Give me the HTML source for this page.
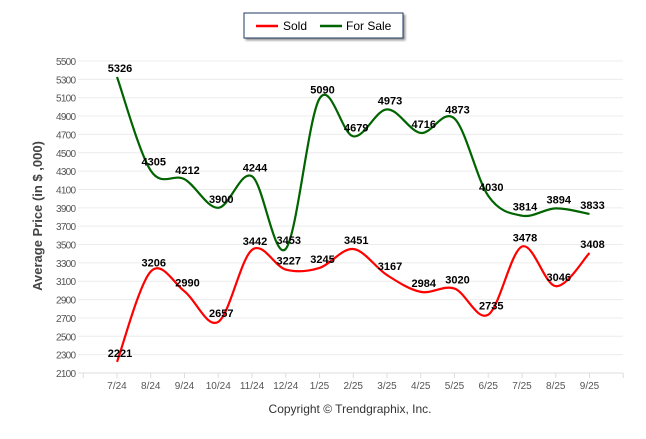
<!DOCTYPE html>
<html><head><meta charset="utf-8"><style>
body{margin:0;background:#fff;font-family:"Liberation Sans",sans-serif}
svg text{font-family:"Liberation Sans",sans-serif}
</style></head><body>
<svg id="c" width="646" height="434">
<rect x="244" y="13" width="159" height="25" fill="#fff" stroke="#1f3864" stroke-width="1" style="filter:drop-shadow(2px 2px 1px #999)"/>
<line x1="256" y1="26" x2="278" y2="26" stroke="#ff0000" stroke-width="2.5"/>
<text x="283" y="30" font-size="12">Sold</text>
<line x1="320" y1="26" x2="342" y2="26" stroke="#006400" stroke-width="2.5"/>
<text x="346" y="30" font-size="12">For Sale</text>
<text transform="translate(42,216) rotate(-90)" text-anchor="middle" font-size="13" font-weight="bold" fill="#444">Average Price (in $ ,000)</text>
<text x="350" y="413" text-anchor="middle" font-size="12" fill="#333">Copyright © Trendgraphix, Inc.</text>
<g id="grid"></g><g id="series"></g><g id="labels"></g>
</svg>
<script>
const categories=["7/24","8/24","9/24","10/24","11/24","12/24","1/25","2/25","3/25","4/25","5/25","6/25","7/25","8/25","9/25"];
const sold=[2221,3206,2990,2657,3442,3227,3245,3451,3167,2984,3020,2735,3478,3046,3408];
const forSale=[5326,4305,4212,3900,4244,3453,5090,4679,4973,4716,4873,4030,3814,3894,3833];
const yTicks=[2100,2300,2500,2700,2900,3100,3300,3500,3700,3900,4100,4300,4500,4700,4900,5100,5300,5500];
const NS="http://www.w3.org/2000/svg";
function xS(i){return 117+i*33.75;}
function yS(v){return 373-(v-2100)*312/3400;}
function mk(t,a,p){const e=document.createElementNS(NS,t);for(const k in a)e.setAttribute(k,a[k]);p.appendChild(e);return e;}
const grid=document.getElementById('grid');
yTicks.forEach(v=>{
 const l=mk('line',{x1:78,x2:623,y1:yS(v),y2:yS(v),stroke:v===2100?'#ddd':'#ececec','stroke-width':1},grid);
 
 
 const t=mk('text',{x:76,y:yS(v)+4,'text-anchor':'end','font-size':10,fill:'#555',textLength:20},grid);
 t.textContent=v;
 
 
});
for(let i=-1;i<categories.length+1;i++){
 const tk=mk('line',{x1:xS(i),x2:xS(i),y1:373,y2:378,stroke:'#ddd'},grid);
 
 
}
categories.forEach((c,i)=>{
 const t=mk('text',{x:xS(i),y:389,'text-anchor':'middle','font-size':10,fill:'#555'},grid);
 t.textContent=c;
 
 
});
function path(vals){
 const p=vals.map((v,i)=>[xS(i),yS(v)]);
 let d='M'+p[0][0]+','+p[0][1];
 for(let i=0;i<p.length-1;i++){
  const p0=p[Math.max(0,i-1)],p1=p[i],p2=p[i+1],p3=p[Math.min(p.length-1,i+2)];
  const c1=[p1[0]+(p2[0]-p0[0])/6,p1[1]+(p2[1]-p0[1])/6];
  const c2=[p2[0]-(p3[0]-p1[0])/6,p2[1]-(p3[1]-p1[1])/6];
  d+=' C'+c1+' '+c2+' '+p2;
 }
 return d;
}
const sg=document.getElementById('series'),lg=document.getElementById('labels');
const s1=mk('path',{d:path(forSale),fill:'none',stroke:'#006400','stroke-width':2.2},sg);


const s2=mk('path',{d:path(sold),fill:'none',stroke:'#ff0000','stroke-width':2.2},sg);


[[forSale,'for-sale-value'],[sold,'sold-value']].forEach(([arr,n])=>{
 arr.forEach((v,i)=>{
  const t=mk('text',{x:xS(i)+3,y:yS(v)-5,'text-anchor':'middle','font-size':11,'font-weight':'bold',fill:'#000'},lg);
  t.textContent=v;
  
  
 });
});
</script>
</body></html>
